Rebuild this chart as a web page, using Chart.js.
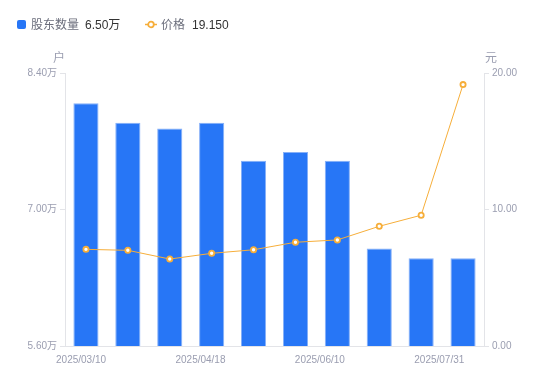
<!DOCTYPE html>
<html>
<head>
<meta charset="utf-8">
<script src="https://cdn.jsdelivr.net/npm/chart.js@4/dist/chart.umd.min.js"></script>
<style>
  html, body { margin: 0; padding: 0; background: #fff; }
  #wrap { position: relative; width: 550px; height: 381px; font-family: "Liberation Sans", "Noto Sans CJK SC", sans-serif; }
  canvas { position: absolute; left: 0; top: 0; }
  .t { position: absolute; white-space: nowrap; line-height: 1; }
</style>
</head>
<body>
<div id="wrap">
  <canvas id="c" width="550" height="381"></canvas>
  <div class="t" style="left:17px;top:20px;width:9px;height:9px;background:#2776F6;border-radius:2px;"></div>
  <div class="t" style="left:31px;top:19px;font-size:12px;color:#6b6e7c;">股东数量</div>
  <div class="t" style="left:85px;top:19px;font-size:12px;color:#333;">6.50万</div>
  <svg class="t" style="left:145px;top:19px;" width="12" height="11">
    <line x1="0" y1="5.5" x2="12" y2="5.5" stroke="#F6AE3A" stroke-width="1.5"/>
    <circle cx="6" cy="5.5" r="2.8" fill="#fff" stroke="#F6AE3A" stroke-width="1.8"/>
  </svg>
  <div class="t" style="left:161px;top:19px;font-size:12px;color:#6b6e7c;">价格</div>
  <div class="t" style="left:192px;top:19px;font-size:12px;color:#333;">19.150</div>
  <div class="t" style="left:53px;top:52px;font-size:12px;color:#9a9db0;">户</div>
  <div class="t" style="left:485px;top:52px;font-size:12px;color:#9a9db0;">元</div>
</div>
<script>
const categories = ["2025/03/10","2025/03/20","2025/03/31","2025/04/18","2025/04/30","2025/05/20","2025/06/10","2025/06/30","2025/07/20","2025/07/31"];
const holders = [8.09, 7.89, 7.83, 7.89, 7.50, 7.59, 7.50, 6.60, 6.50, 6.50]; // 万户
const price = [7.08, 7.01, 6.37, 6.79, 7.05, 7.60, 7.77, 8.77, 9.58, 19.15];
const xTickLabels = ["2025/03/10","2025/04/18","2025/06/10","2025/07/31"];
const leftTicks = [5.6, 7.0, 8.4];
const rightTicks = [0, 10, 20];

const tickColor = '#9a9db0';
const lineGray = '#e3e4e8';
const fontSpec = { family: '"Liberation Sans", "Noto Sans CJK SC", sans-serif', size: 10 };

new Chart(document.getElementById('c'), {
  data: {
    labels: categories,
    datasets: [
      {
        type: 'line',
        data: price,
        yAxisID: 'yR',
        xAxisID: 'x',
        borderColor: '#F6AE3A',
        borderWidth: 1,
        pointRadius: 2.6,
        pointBorderWidth: 1.8,
        pointBackgroundColor: '#fff',
        pointBorderColor: '#F6AE3A',
        tension: 0,
        order: 0
      },
      {
        type: 'bar',
        data: holders,
        yAxisID: 'yL',
        xAxisID: 'x',
        backgroundColor: '#2776F6',
        borderColor: '#86B0F8',
        borderWidth: { top: 1, left: 1, right: 1, bottom: 0 },
        borderSkipped: 'bottom',
        barPercentage: 0.6,
        categoryPercentage: 1.0,
        order: 1
      }
    ]
  },
  options: {
    responsive: false,
    animation: false,
    layout: { padding: { top: 73, left: 0, right: 0, bottom: 0 } },
    plugins: { legend: { display: false }, tooltip: { enabled: false } },
    scales: {
      x: { type: 'category', display: false, offset: true },
      xl: {
        type: 'linear',
        position: 'bottom',
        min: -0.1345,
        max: 3.3745,
        afterBuildTicks: a => { a.ticks = [0, 1, 2, 3].map(v => ({ value: v })); },
        afterFit: a => { a.height = 35; },
        grid: { display: false },
        border: { display: true, color: lineGray, width: 1 },
        ticks: {
          color: tickColor, font: fontSpec, padding: 0, maxRotation: 0, autoSkip: false,
          callback: v => xTickLabels[v]
        }
      },
      yL: {
        type: 'linear',
        position: 'left',
        min: 5.6,
        max: 8.4,
        afterBuildTicks: a => { a.ticks = leftTicks.map(v => ({ value: v })); },
        afterFit: a => { a.width = 65; },
        grid: { display: true, drawOnChartArea: false, drawTicks: true, tickLength: 5, color: lineGray },
        border: { display: true, color: lineGray },
        ticks: { color: tickColor, font: fontSpec, padding: 3, callback: v => v.toFixed(2) + '万' }
      },
      yR: {
        type: 'linear',
        position: 'right',
        min: 0,
        max: 20,
        afterBuildTicks: a => { a.ticks = rightTicks.map(v => ({ value: v })); },
        afterFit: a => { a.width = 66; },
        grid: { display: true, drawOnChartArea: false, drawTicks: true, tickLength: 5, color: lineGray },
        border: { display: true, color: lineGray },
        ticks: { color: tickColor, font: fontSpec, padding: 3, callback: v => v.toFixed(2) }
      }
    }
  }
});
</script>
</body>
</html>
